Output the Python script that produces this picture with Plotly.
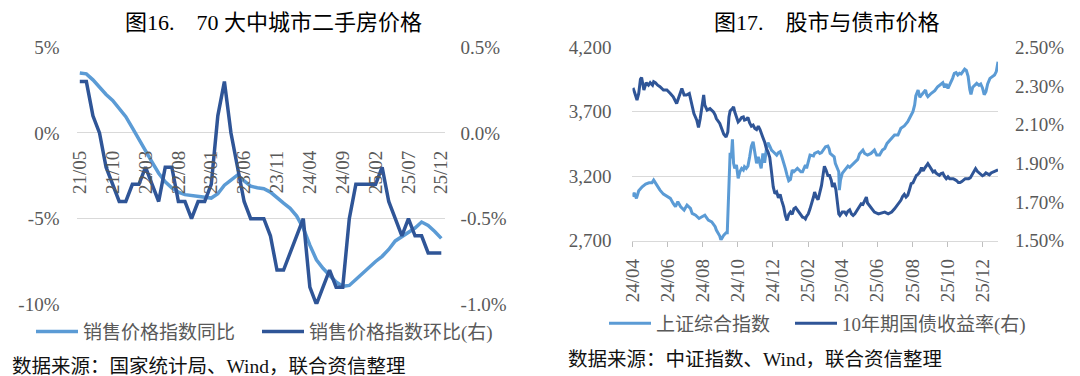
import pandas as pd
import plotly.graph_objects as go

W, H = 1080, 376

# ---------------- Figure 16 data (monthly) ----------------
months = list(pd.period_range("2021-05", "2025-12", freq="M").strftime("%y/%m"))
yoy = [3.5, 3.45, 3.1, 2.65, 2.25, 1.9, 1.45, 0.95, 0.3, -0.4,
       -1.05, -1.7, -2.35, -2.85, -3.2, -3.45, -3.6, -3.65, -3.65, -3.7,
       -3.8, -3.55, -3.05, -2.75, -2.45, -2.8, -3.1, -3.2, -3.25, -3.45,
       -3.8, -4.1, -4.4, -4.85, -5.55, -6.55, -7.4, -7.9, -8.3, -8.7,
       -8.95, -8.9, -8.55, -8.2, -7.8, -7.5, -7.2, -6.8, -6.3, -6.05,
       -5.85, -5.55, -5.2, -5.4, -5.75, -6.15]
mom = [0.3, 0.3, 0.1, 0.0, -0.2, -0.3, -0.4, -0.4, -0.3, -0.3,
       -0.2, -0.3, -0.4, -0.2, -0.2, -0.4, -0.4, -0.5, -0.4, -0.4,
       -0.3, 0.1, 0.3, 0.0, -0.2, -0.4, -0.5, -0.5, -0.5, -0.6,
       -0.8, -0.8, -0.7, -0.6, -0.5, -0.9, -1.0, -0.9, -0.8, -0.9,
       -0.9, -0.5, -0.3, -0.3, -0.3, -0.3, -0.2, -0.4, -0.5, -0.6,
       -0.5, -0.6, -0.6, -0.7, -0.7, -0.7]
label_every = 5
left_ticks = [5, 0, -5, -10]
left_ticktext = ["5%", "0%", "-5%", "-10%"]
right_ticks = [0.5, 0.0, -0.5, -1.0]
right_ticktext = ["0.5%", "0.0%", "-0.5%", "-1.0%"]

# ---------------- Figure 17 data ----------------
sse_dates = ["2024-04-01", "2024-04-04", "2024-04-08", "2024-04-12", "2024-04-18", "2024-04-24", "2024-04-30",
             "2024-05-05", "2024-05-08", "2024-05-11", "2024-05-14", "2024-05-19", "2024-05-25", "2024-05-31",
             "2024-06-06", "2024-06-11", "2024-06-15", "2024-06-19", "2024-06-24", "2024-06-30",
             "2024-07-05", "2024-07-11", "2024-07-14", "2024-07-20", "2024-07-26", "2024-07-31",
             "2024-08-05", "2024-08-11", "2024-08-17", "2024-08-23", "2024-08-25", "2024-08-31",
             "2024-09-02", "2024-09-07", "2024-09-11", "2024-09-13", "2024-09-16", "2024-09-18", "2024-09-20",
             "2024-09-22", "2024-09-24", "2024-09-26", "2024-09-29",
             "2024-10-02", "2024-10-05", "2024-10-08", "2024-10-11", "2024-10-13", "2024-10-16", "2024-10-19",
             "2024-10-22", "2024-10-25", "2024-10-28", "2024-10-31",
             "2024-11-03", "2024-11-06", "2024-11-09", "2024-11-11", "2024-11-14", "2024-11-17", "2024-11-20",
             "2024-11-23", "2024-11-26", "2024-11-29",
             "2024-12-02", "2024-12-05", "2024-12-08", "2024-12-11", "2024-12-14", "2024-12-17", "2024-12-20",
             "2024-12-23", "2024-12-26", "2024-12-29",
             "2025-01-01", "2025-01-04", "2025-01-07", "2025-01-10", "2025-01-13", "2025-01-16", "2025-01-19",
             "2025-01-22", "2025-01-25", "2025-01-27", "2025-01-29",
             "2025-02-01", "2025-02-04", "2025-02-10", "2025-02-12", "2025-02-18", "2025-02-21", "2025-02-24",
             "2025-02-28", "2025-03-03", "2025-03-07", "2025-03-09", "2025-03-11", "2025-03-14", "2025-03-18",
             "2025-03-20", "2025-03-24", "2025-03-26", "2025-03-27", "2025-03-29",
             "2025-04-01", "2025-04-05", "2025-04-11", "2025-04-14", "2025-04-20", "2025-04-25", "2025-04-28",
             "2025-05-01", "2025-05-07", "2025-05-10", "2025-05-15", "2025-05-21", "2025-05-27", "2025-05-31",
             "2025-06-05", "2025-06-10", "2025-06-14", "2025-06-18", "2025-06-23", "2025-06-27",
             "2025-07-01", "2025-07-07", "2025-07-12", "2025-07-18", "2025-07-24", "2025-07-30",
             "2025-08-02", "2025-08-05", "2025-08-07", "2025-08-11", "2025-08-14", "2025-08-17", "2025-08-20",
             "2025-08-24", "2025-08-26", "2025-08-28",
             "2025-09-03", "2025-09-09", "2025-09-14", "2025-09-20", "2025-09-23", "2025-09-26", "2025-09-29",
             "2025-10-02", "2025-10-08", "2025-10-10", "2025-10-13", "2025-10-16", "2025-10-19", "2025-10-22",
             "2025-10-25", "2025-10-28", "2025-10-31",
             "2025-11-03", "2025-11-06", "2025-11-09", "2025-11-11", "2025-11-14", "2025-11-18", "2025-11-21",
             "2025-11-25", "2025-11-28", "2025-12-01", "2025-12-04", "2025-12-07", "2025-12-10", "2025-12-14",
             "2025-12-19", "2025-12-22", "2025-12-25", "2025-12-28"]
sse = [3040, 3071, 3027, 3086, 3117, 3138, 3148,
       3148, 3169, 3148, 3117, 3091, 3060, 3040,
       3027, 2988, 2962, 3001, 2962, 2936,
       2975, 2949, 2910, 2897, 2871, 2884,
       2897, 2858, 2845, 2807, 2781, 2734,
       2703, 2742, 2760, 2760, 3150, 3380, 3340,
       3485, 3299, 3260, 3286,
       3182, 3234, 3260, 3247, 3273, 3260, 3278,
       3350, 3433, 3467, 3389,
       3299, 3350, 3294, 3260, 3376, 3304, 3407,
       3459, 3433, 3402,
       3389, 3376, 3363, 3382, 3389, 3350, 3294,
       3260, 3208, 3164,
       3174, 3247, 3234, 3247, 3260, 3247, 3234,
       3234, 3260, 3286, 3260,
       3325, 3363, 3356, 3376, 3389, 3376, 3382,
       3415, 3428, 3433, 3415, 3376, 3363, 3350,
       3299, 3260, 3234, 3091, 3169,
       3221, 3242, 3278, 3268, 3294, 3312, 3330,
       3371, 3402, 3376, 3363, 3376, 3402, 3363,
       3363, 3402, 3415, 3454, 3480, 3506,
       3519, 3519, 3571, 3589, 3622, 3674,
       3700, 3752, 3822, 3868, 3812, 3830, 3843,
       3868, 3830, 3817,
       3843, 3863, 3894, 3920, 3925, 3889, 3915,
       3881, 3933, 3959, 3998, 4003, 3985, 3998,
       3993, 4011, 4030,
       4020, 3975, 3870, 3835, 3890, 3910, 3920,
       3905, 3915, 3885, 3832, 3856, 3915, 3959,
       3972, 3985, 4011, 4088]

cgb_dates = ["2024-04-01", "2024-04-03", "2024-04-05", "2024-04-09", "2024-04-12", "2024-04-15", "2024-04-17",
             "2024-04-19", "2024-04-21", "2024-04-25", "2024-04-29", "2024-05-02", "2024-05-06", "2024-05-08",
             "2024-05-11", "2024-05-15", "2024-05-19", "2024-05-25", "2024-05-31", "2024-06-06", "2024-06-11",
             "2024-06-17", "2024-06-22", "2024-06-26", "2024-06-30", "2024-07-04", "2024-07-09", "2024-07-13",
             "2024-07-17", "2024-07-22", "2024-07-25", "2024-07-28", "2024-07-31", "2024-08-03", "2024-08-05",
             "2024-08-09", "2024-08-14", "2024-08-20", "2024-08-23", "2024-08-25", "2024-08-31", "2024-09-02",
             "2024-09-07", "2024-09-11", "2024-09-14", "2024-09-16", "2024-09-18", "2024-09-22", "2024-09-24",
             "2024-09-26", "2024-09-29", "2024-10-02", "2024-10-05", "2024-10-08", "2024-10-11", "2024-10-13",
             "2024-10-16", "2024-10-19", "2024-10-22", "2024-10-25", "2024-10-28", "2024-10-31", "2024-11-03",
             "2024-11-06", "2024-11-09", "2024-11-11", "2024-11-14", "2024-11-17", "2024-11-20", "2024-11-23",
             "2024-11-26", "2024-11-29", "2024-12-02", "2024-12-05", "2024-12-08", "2024-12-11", "2024-12-14",
             "2024-12-17", "2024-12-20", "2024-12-23", "2024-12-26", "2024-12-29", "2025-01-01", "2025-01-04",
             "2025-01-07", "2025-01-10", "2025-01-13", "2025-01-16", "2025-01-19", "2025-01-22", "2025-01-25",
             "2025-01-27", "2025-01-29", "2025-02-01", "2025-02-04", "2025-02-07", "2025-02-10", "2025-02-12",
             "2025-02-15", "2025-02-18", "2025-02-21", "2025-02-24", "2025-02-27", "2025-03-01", "2025-03-04",
             "2025-03-07", "2025-03-10", "2025-03-13", "2025-03-15", "2025-03-18", "2025-03-21", "2025-03-24",
             "2025-03-26", "2025-03-28", "2025-04-01", "2025-04-05", "2025-04-08", "2025-04-11", "2025-04-14",
             "2025-04-17", "2025-04-20", "2025-04-23", "2025-04-25", "2025-04-28", "2025-05-01", "2025-05-04",
             "2025-05-07", "2025-05-10", "2025-05-13", "2025-05-15", "2025-05-18", "2025-05-21", "2025-05-24",
             "2025-05-27", "2025-06-03", "2025-06-08", "2025-06-14", "2025-06-20", "2025-06-26", "2025-07-01",
             "2025-07-07", "2025-07-12", "2025-07-15", "2025-07-18", "2025-07-21", "2025-07-24", "2025-07-27",
             "2025-07-30", "2025-08-02", "2025-08-05", "2025-08-08", "2025-08-11", "2025-08-14", "2025-08-17",
             "2025-08-20", "2025-08-22", "2025-08-25", "2025-08-28", "2025-08-31", "2025-09-03", "2025-09-06",
             "2025-09-09", "2025-09-11", "2025-09-14", "2025-09-17", "2025-09-20", "2025-09-23", "2025-09-26",
             "2025-09-29", "2025-10-02", "2025-10-05", "2025-10-08", "2025-10-11", "2025-10-14", "2025-10-17",
             "2025-10-20", "2025-10-23", "2025-10-26", "2025-10-29", "2025-11-01", "2025-11-04", "2025-11-07",
             "2025-11-10", "2025-11-13", "2025-11-16", "2025-11-19", "2025-11-22", "2025-11-25", "2025-11-28",
             "2025-12-01", "2025-12-04", "2025-12-07", "2025-12-10", "2025-12-13", "2025-12-16", "2025-12-19",
             "2025-12-22", "2025-12-25", "2025-12-28"]
cgb = [2.279, 2.282, 2.265, 2.227, 2.261, 2.334, 2.344,
       2.296, 2.279, 2.317, 2.304, 2.317, 2.304, 2.322,
       2.317, 2.304, 2.296, 2.279, 2.279, 2.261, 2.244,
       2.209, 2.253, 2.287, 2.253, 2.253, 2.261, 2.201,
       2.157, 2.123, 2.085, 2.131, 2.201, 2.253, 2.201,
       2.175, 2.183, 2.166, 2.149, 2.131, 2.106, 2.088,
       2.050, 2.036, 2.062, 2.140, 2.171, 2.183, 2.192,
       2.166, 2.137, 2.114, 2.123, 2.137, 2.140, 2.123,
       2.126, 2.137, 2.109, 2.092, 2.097, 2.080, 2.074,
       2.092, 2.074, 2.054, 2.033, 2.010, 1.976, 1.958,
       1.929, 1.855, 1.777, 1.742, 1.751, 1.721, 1.739,
       1.704, 1.676, 1.630, 1.604, 1.635, 1.647, 1.635,
       1.664, 1.670, 1.656, 1.647, 1.630, 1.621, 1.618,
       1.612, 1.625, 1.638, 1.664, 1.690, 1.725, 1.751,
       1.725, 1.711, 1.742, 1.785, 1.846, 1.884, 1.863,
       1.837, 1.837, 1.811, 1.777, 1.798, 1.763, 1.664,
       1.638, 1.630, 1.647, 1.647, 1.635, 1.652, 1.659,
       1.638, 1.630, 1.638, 1.647, 1.659, 1.673, 1.690,
       1.687, 1.711, 1.725, 1.694, 1.682, 1.670, 1.656,
       1.647, 1.638, 1.642, 1.647, 1.638, 1.647, 1.664,
       1.690, 1.708, 1.728, 1.739, 1.725, 1.734, 1.763,
       1.794, 1.798, 1.815, 1.837, 1.843, 1.855, 1.877,
       1.860, 1.872, 1.889, 1.898, 1.884, 1.867, 1.855,
       1.860, 1.849, 1.843, 1.837, 1.846, 1.849, 1.832,
       1.820, 1.830, 1.820, 1.820, 1.820, 1.815, 1.810,
       1.800, 1.800, 1.805, 1.815, 1.820, 1.820, 1.820,
       1.825, 1.840, 1.855, 1.872, 1.858, 1.850, 1.845,
       1.835, 1.840, 1.850, 1.845, 1.840, 1.850, 1.855,
       1.860, 1.862, 1.866]
sse_ticks = [2700, 3200, 3700, 4200]
cgb_ticks = [1.5, 1.7, 1.9, 2.1, 2.3, 2.5]

# ---------------- styling ----------------
LIGHT = "#5B9BD5"
DARK = "#2F5597"
GRID = "#D9D9D9"
TXT = "#595959"
FAM = "Liberation Serif, Noto Sans CJK SC"
tickfont = dict(family=FAM, size=19, color=TXT)
legfont = dict(family=FAM, size=19, color=TXT)

pos = list(range(len(months)))
lab_idx = pos[::label_every]


def px_x(p):
    return p / W


def px_y(p):
    return 1 - p / H


xd1 = [px_x(76.5), px_x(444.6)]
yd1 = [px_y(304.3), px_y(47.3)]
x_cross = yd1[0] + (0 - left_ticks[-1]) / (left_ticks[0] - left_ticks[-1]) * (yd1[1] - yd1[0])
xd3 = [px_x(632.4), px_x(998.0)]
yd3 = [px_y(240.5), px_y(47.3)]

fig = go.Figure()
fig.add_trace(go.Scatter(x=pos, y=yoy, mode="lines", name="销售价格指数同比",
                         line=dict(color=LIGHT, width=3.5), xaxis="x", yaxis="y", legend="legend"))
fig.add_trace(go.Scatter(x=pos, y=mom, mode="lines", name="销售价格指数环比(右)",
                         line=dict(color=DARK, width=3.5), xaxis="x", yaxis="y2", legend="legend2"))
fig.add_trace(go.Scatter(x=sse_dates, y=sse, mode="lines", name="上证综合指数",
                         line=dict(color=LIGHT, width=3), xaxis="x3", yaxis="y3", legend="legend3"))
fig.add_trace(go.Scatter(x=cgb_dates, y=cgb, mode="lines", name="10年期国债收益率(右)",
                         line=dict(color=DARK, width=3), xaxis="x3", yaxis="y4", legend="legend4"))

leg_common = dict(orientation="h", xanchor="left", yanchor="middle", font=legfont,
                  itemwidth=42, bgcolor="rgba(0,0,0,0)", borderwidth=0)

fig.update_layout(
    width=W, height=H, margin=dict(l=0, r=0, t=0, b=0, autoexpand=False),
    paper_bgcolor="white", plot_bgcolor="white", showlegend=True,
    xaxis=dict(domain=xd1, range=[-0.5, len(months) - 0.5], anchor="free", position=x_cross,
               tickmode="array", tickvals=lab_idx, ticktext=[months[i] for i in lab_idx],
               tickangle=-90, ticks="", showline=False, showgrid=False, zeroline=False,
               tickfont=tickfont, ticklabelstandoff=13, automargin=False),
    xaxis5=dict(overlaying="x", domain=xd1, range=[-0.5, len(months) - 0.5], anchor="free", position=x_cross,
                tickmode="array", tickvals=[i - 0.5 for i in lab_idx], ticks="outside", ticklen=5,
                tickcolor="#BFBFBF", showticklabels=False, showline=True, linecolor=GRID, linewidth=1,
                showgrid=False, zeroline=False, automargin=False),
    yaxis=dict(domain=yd1, anchor="x", range=[left_ticks[-1], left_ticks[0]], tickmode="array",
               tickvals=left_ticks, ticktext=left_ticktext, showgrid=True, gridcolor=GRID, gridwidth=1,
               zeroline=False, showline=False, ticks="", tickfont=tickfont, ticklabelstandoff=16,
               automargin=False),
    yaxis2=dict(overlaying="y", side="right", anchor="x", range=[right_ticks[-1], right_ticks[0]],
                tickmode="array", tickvals=right_ticks, ticktext=right_ticktext, showgrid=False,
                zeroline=False, showline=False, ticks="", tickfont=tickfont, ticklabelstandoff=15,
                automargin=False),
    xaxis3=dict(domain=xd3, anchor="y3", type="date", range=[sse_dates[0], sse_dates[-1]],
                tick0="2024-04-01", dtick="M2", tickformat="%y/%m", tickangle=-90,
                ticks="outside", ticklen=5, tickcolor="#BFBFBF", showline=True, linecolor=GRID,
                showgrid=False, zeroline=False, tickfont=tickfont, ticklabelstandoff=5,
                automargin=False),
    yaxis3=dict(domain=yd3, anchor="x3", range=[sse_ticks[0], sse_ticks[-1]], tickmode="array",
                tickvals=sse_ticks, tickformat=",d", showgrid=True, gridcolor=GRID, gridwidth=1,
                zeroline=False, showline=False, ticks="", tickfont=tickfont, ticklabelstandoff=20,
                automargin=False),
    yaxis4=dict(overlaying="y3", side="right", anchor="x3", range=[cgb_ticks[0], cgb_ticks[-1]],
                tickmode="array", tickvals=cgb_ticks, ticktext=[f"{v:.2f}%" for v in cgb_ticks],
                showgrid=False, zeroline=False, showline=False, ticks="", tickfont=tickfont,
                ticklabelstandoff=16, automargin=False),
    legend=dict(x=px_x(31), y=px_y(331.7), **leg_common),
    legend2=dict(x=px_x(257), y=px_y(331.7), **leg_common),
    legend3=dict(x=px_x(604), y=px_y(323.3), **leg_common),
    legend4=dict(x=px_x(790), y=px_y(323.3), **leg_common),
)

titles = [("图16.\u300070 大中城市二手房价格", 273), ("图17.\u3000股市与债市价格", 827)]
for txt, cx in titles:
    fig.add_annotation(text=txt, x=px_x(cx), y=px_y(22), xref="paper", yref="paper",
                       xanchor="center", yanchor="middle", showarrow=False,
                       font=dict(family=FAM, size=22, color="#000000"))

footers = [("数据来源：国家统计局、Wind，联合资信整理", 10, 366),
           ("数据来源：中证指数、Wind，联合资信整理", 566, 359)]
for txt, lx, cy in footers:
    fig.add_annotation(text=txt, x=px_x(lx), y=px_y(cy), xref="paper", yref="paper",
                       xanchor="left", yanchor="middle", showarrow=False,
                       font=dict(family=FAM, size=19.5, color="#111111"))

# the page's default body margin would offset the chart by 8px; remove it
fig.write_html("out.html", config={"displayModeBar": False},
               post_script="document.body.style.margin='0px';")
